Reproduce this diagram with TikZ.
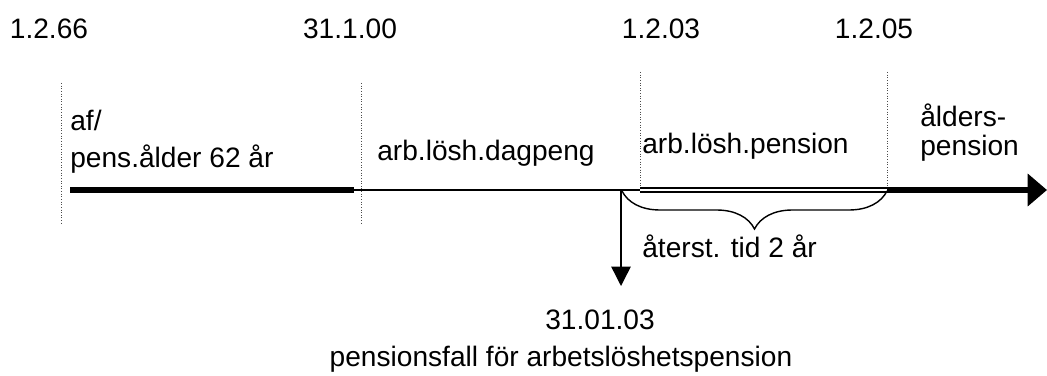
\documentclass[tikz,border=0pt]{standalone}
\usepackage{fontspec}
\setmainfont{Liberation Sans}
\usetikzlibrary{arrows.meta,decorations.pathreplacing}
\begin{document}
\begin{tikzpicture}[x=0.02cm,y=-0.02cm,
  lbl/.style={font=\fontsize{16}{19}\selectfont, inner sep=0pt},
  marker/.style={densely dotted, line width=0.5pt, black!70},
  thickline/.style={line width=3.4pt},
  thinline/.style={line width=0.8pt},
  dbl/.style={double, double distance=1.4pt, line width=1pt}]
\useasboundingbox (0,0) rectangle (1047,375);
% dates
\node[lbl] (d1) at (49,29) {1.2.66};
\node[lbl] (d2) at (350,29) {31.1.00};
\node[lbl] (d3) at (661,29) {1.2.03};
\node[lbl] (d4) at (874,29) {1.2.05};
% timeline coordinates
\coordinate (t0) at (70,190);
\coordinate (t1) at (354,190);
\coordinate (t2) at (640,190);
\coordinate (t3) at (887,190);
\coordinate (tend) at (1047,190);
% dotted markers
\coordinate (m1a) at (61,83); \coordinate (m1b) at (61,223);
\coordinate (m2a) at (361,83); \coordinate (m2b) at (361,223);
\coordinate (m3a) at (640,72);
\coordinate (m4a) at (887,72);
\draw[marker] (m1a) -- (m1b);
\draw[marker] (m2a) -- (m2b);
\draw[marker] (m3a) -- (t2);
\draw[marker] (m4a) -- (t3);
% timeline
\draw[thickline] (t0) -- (t1);
\draw[thinline] (t1) -- (t2);
\draw[dbl] (t2) -- (t3);
\draw[thickline,-{Triangle[length=11pt,width=18pt]}] (t3) -- (tend);
% period labels
\node[lbl, anchor=base west, align=left, font=\fontsize{16}{21}\selectfont] (p1) at (70,167) {af/\\pens.ålder 62 år};
\node[lbl, anchor=base west] (p2) at (377,160) {arb.lösh.dagpeng};
\node[lbl, anchor=base west] (p3) at (642,153) {arb.lösh.pension};
\node[lbl, anchor=base west, align=left, font=\fontsize{16}{16.5}\selectfont] (p4) at (920,155) {ålders-\\pension};
% brace
\coordinate (b1) at (622,191);
\coordinate (b2) at (887,191);
\draw[decorate, decoration={brace, mirror, amplitude=0.76cm}, line width=0.8pt] (b1) -- (b2);
\node[lbl, anchor=base west] (rest) at (642,257) {återst. tid 2 år};
% down arrow
\coordinate (a0) at (621,190);
\coordinate (a1) at (621,286);
\draw[thinline,-{Triangle[length=11pt,width=11pt]}] (a0) -- (a1);
\node[lbl, anchor=base] (fd) at (600,329) {31.01.03};
\node[lbl, anchor=base] (fall) at (561,366) {pensionsfall för arbetslöshetspension};
\end{tikzpicture}
\end{document}
